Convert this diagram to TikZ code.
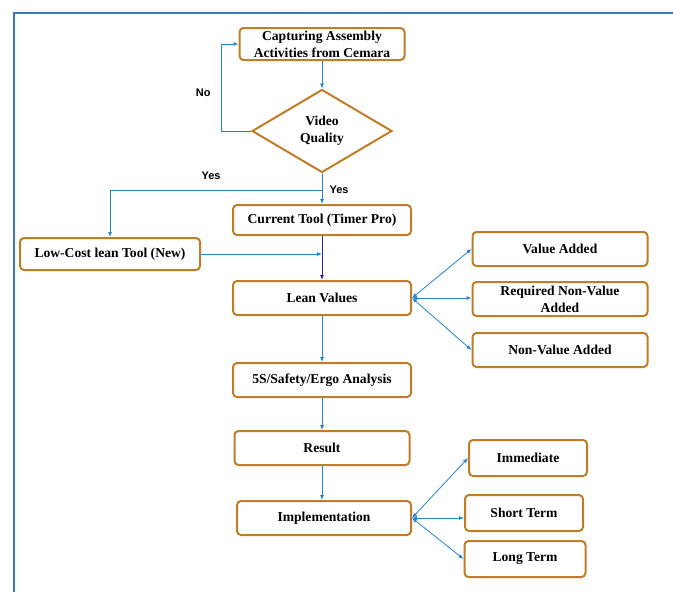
\documentclass[tikz,border=0pt]{standalone}
\usepackage{fontspec}
\setmainfont{Liberation Serif}
\newfontfamily\labelfont{Liberation Sans}
\usetikzlibrary{arrows.meta,shapes.geometric}
\definecolor{boxbrown}{RGB}{190,125,40}
\definecolor{flowblue}{RGB}{40,130,205}
\definecolor{frameblue}{RGB}{68,114,196}
\definecolor{navyline}{RGB}{50,40,150}

\begin{document}
\begin{tikzpicture}[x=1pt, y=-1pt,
  every node/.style={font=\bfseries\fontsize{13.6}{17}\selectfont, align=center, inner sep=0pt},
  stepbox/.style={draw=boxbrown, line width=2pt, rounded corners=4pt, minimum height=34pt},
  flow/.style={draw=flowblue, line width=0.8pt, -{Latex[length=5pt,width=4pt]}},
  twoway/.style={flow, {Latex[length=5pt,width=4pt]}-{Latex[length=5pt,width=4pt]}},
  answer/.style={font=\labelfont\bfseries\fontsize{11}{13}\selectfont}]
\useasboundingbox (0,0) rectangle (673,592);
\draw[frameblue, line width=2pt] (14,592) -- (14,13) -- (673,13);

\node[stepbox, minimum width=165pt, minimum height=32pt] (capture) at (322,44) {Capturing Assembly\\Activities from Cemara};
\node[diamond, draw=boxbrown, line width=2pt, minimum width=140pt, minimum height=83pt] (quality) at (322,131) {Video\\Quality};
\node[stepbox, minimum width=178pt, minimum height=30pt] (current) at (322,220) {Current Tool (Timer Pro)};
\node[stepbox, minimum width=180pt, minimum height=32pt] (lowcost) at (110,254) {Low-Cost lean Tool (New)};
\node[stepbox, minimum width=178pt] (lean) at (322,298) {Lean Values};
\node[stepbox, minimum width=175pt] (valueadd) at (560,249) {Value Added};
\node[stepbox, minimum width=175pt] (required) at (560,299) {Required Non-Value\\Added};
\node[stepbox, minimum width=175pt] (nonvalue) at (560,350) {Non-Value Added};
\node[stepbox, minimum width=178pt] (safety) at (322,380) {5S/Safety/Ergo Analysis};
\node[stepbox, minimum width=175pt] (result) at (322,448) {Result};
\node[stepbox, minimum width=174pt] (impl) at (324,518) {Implementation};
\node[stepbox, minimum width=118pt, minimum height=36pt] (immediate) at (528,458) {Immediate};
\node[stepbox, minimum width=118pt, minimum height=36pt] (shortterm) at (524,513) {Short Term};
\node[stepbox, minimum width=121pt, minimum height=36pt] (longterm) at (525,559) {Long Term};

\coordinate (split) at (322,190);
\coordinate (merge) at (322,254);

\draw[flow] (capture) -- (quality);
\draw[flow] (quality.west) -- ++(-30,0) |- (capture.west) node[answer, pos=0.22, left=10pt] {No};
\draw[flow] (quality) -- (current);
\node[answer] (yesdown) at (339,190) {Yes};
\draw[flow] (split) -| (lowcost);
\node[answer] (yesleft) at (211,176) {Yes};
\draw[flow, draw=navyline] (current) -- (lean);
\draw[flow] (lowcost) -- (merge);
\draw[twoway] (lean.east) -- (valueadd.west);
\draw[twoway] (lean.east) -- (lean.east -| required.west);
\draw[twoway] (lean.east) -- (nonvalue.west);
\draw[flow] (lean) -- (safety);
\draw[flow] (safety) -- (result);
\draw[flow] (result) -- (result |- impl.north);
\draw[twoway] (impl.east) -- (immediate.west);
\draw[twoway] (impl.east) -- (impl.east -| shortterm.west);
\draw[twoway] (impl.east) -- (longterm.west);
\end{tikzpicture}
\end{document}
